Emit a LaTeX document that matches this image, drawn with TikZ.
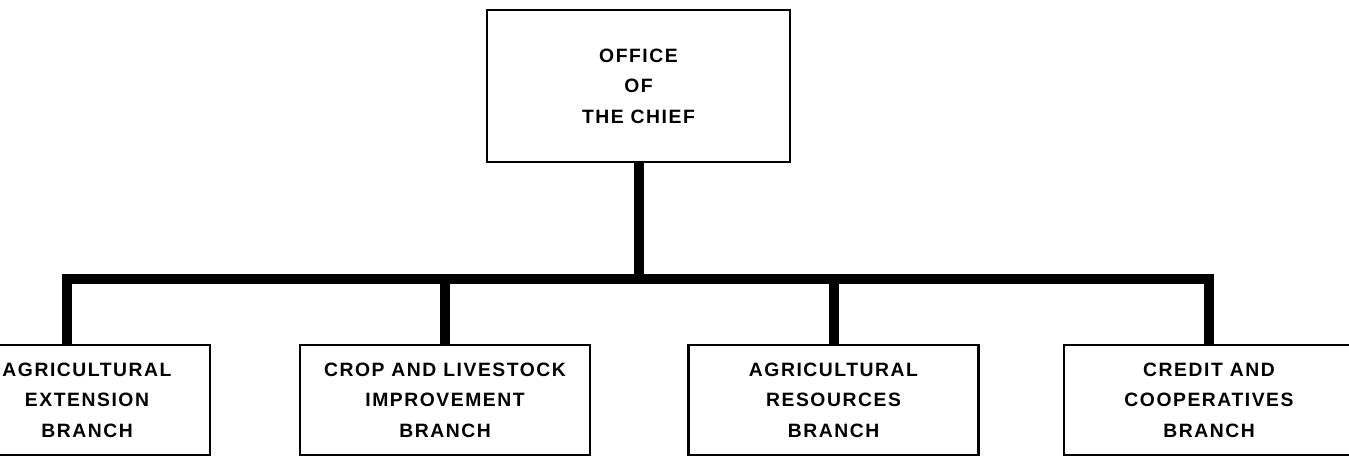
\documentclass[tikz,border=0pt]{standalone}
\usepackage{fontspec}
\setmainfont{Liberation Sans}[LetterSpace=8]
\tikzset{
  unitbox/.style={draw, line width=1.3pt, align=center, inner sep=0pt,
    font=\bfseries\fontsize{11}{17.4}\selectfont},
  branchbox/.style={unitbox, minimum width=5.8cm, minimum height=2.2cm},
  trunk/.style={line width=0.2cm, line join=miter}
}

\begin{document}
\begin{tikzpicture}[x=0.02cm, y=0.02cm]
		%%%%% START %%%%%
		\useasboundingbox (0,0) rectangle (1349,457);
		\clip (0,0) rectangle (1349,457);
		
		\node[unitbox, minimum width=6.06cm, minimum height=3.04cm] (chief) at (638.5,371) {OFFICE\\OF\\THE CHIEF};
		
		\node[branchbox, minimum width=4.92cm] (ext) at (87,57) {AGRICULTURAL\\EXTENSION\\BRANCH};
		\node[branchbox] (crop) at (445,57) {CROP AND LIVESTOCK\\IMPROVEMENT\\BRANCH};
		\node[branchbox] (res) at (833.5,57) {AGRICULTURAL\\RESOURCES\\BRANCH};
		\node[branchbox] (cred) at (1209,57) {CREDIT AND\\COOPERATIVES\\BRANCH};
		
		\coordinate (bus) at (0,178);
		\coordinate (extup) at (67,0);
		\draw[trunk] (chief.south) -- (chief.south |- bus);
		\draw[trunk] (extup |- ext.north) -- (extup |- bus) -- (cred.north |- bus) -- (cred.north);
		\draw[trunk] (crop.north) -- (crop.north |- bus);
		\draw[trunk] (res.north) -- (res.north |- bus);
		%%%%% END %%%%%
\end{tikzpicture}
\end{document}
